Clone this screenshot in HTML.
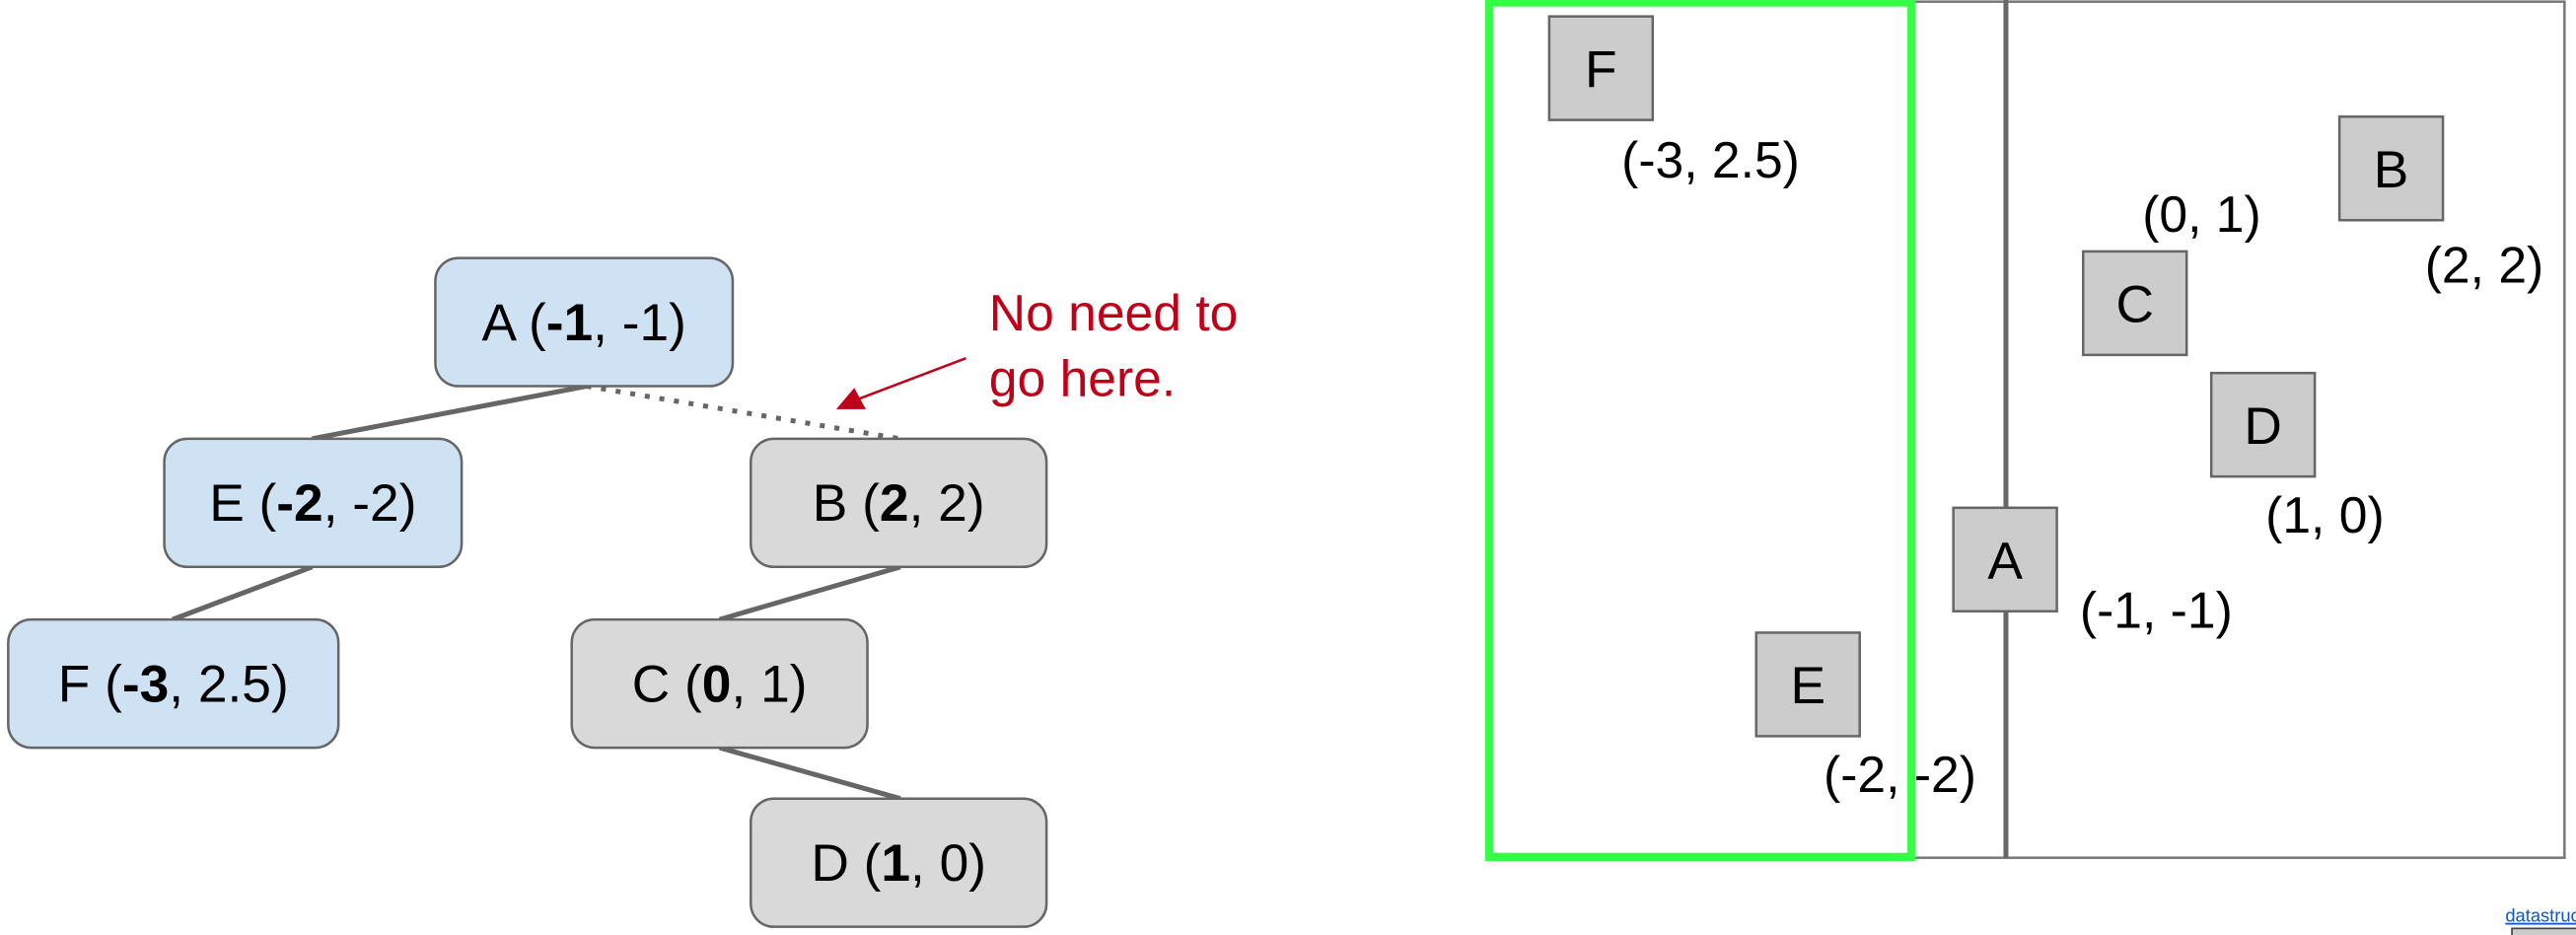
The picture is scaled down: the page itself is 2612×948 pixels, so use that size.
<!DOCTYPE html>
<html><head><meta charset="utf-8"><style>
html,body{margin:0;padding:0;background:#fff;width:2612px;height:948px;overflow:hidden}
svg{display:block}
text{font-family:"Liberation Sans",Arial,sans-serif}
</style></head><body>
<svg width="2612" height="948" viewBox="0 0 1568 569" preserveAspectRatio="none">
<g stroke="#666" stroke-width="3">
<line x1="357" y1="235" x2="190" y2="267"/>
<line x1="357" y1="235" x2="548" y2="267" stroke-dasharray="3,6"/>
<line x1="190" y1="345" x2="105" y2="377"/>
<line x1="548" y1="345" x2="438" y2="377"/>
<line x1="438" y1="455" x2="548" y2="486"/>
</g>
<g font-size="32" text-anchor="middle" stroke-width="1.5">
<g><rect x="265" y="157" width="181" height="78" rx="14" fill="#cfe2f3" stroke="#666"/><text x="355.5" y="207">A (<tspan font-weight="bold">-1</tspan>, -1)</text></g>
<g><rect x="100" y="267" width="181" height="78" rx="14" fill="#cfe2f3" stroke="#666"/><text x="190.5" y="317">E (<tspan font-weight="bold">-2</tspan>, -2)</text></g>
<g><rect x="457" y="267" width="180" height="78" rx="14" fill="#d9d9d9" stroke="#666"/><text x="547" y="317">B (<tspan font-weight="bold">2</tspan>, 2)</text></g>
<g><rect x="5" y="377" width="201" height="78" rx="14" fill="#cfe2f3" stroke="#666"/><text x="105.5" y="427">F (<tspan font-weight="bold">-3</tspan>, 2.5)</text></g>
<g><rect x="348" y="377" width="180" height="78" rx="14" fill="#d9d9d9" stroke="#666"/><text x="438" y="427">C (<tspan font-weight="bold">0</tspan>, 1)</text></g>
<g><rect x="457" y="486" width="180" height="78" rx="14" fill="#d9d9d9" stroke="#666"/><text x="547" y="536">D (<tspan font-weight="bold">1</tspan>, 0)</text></g>
</g>
<g>
<text x="602" y="201" font-size="31" fill="#c00018">No need to</text>
<text x="602" y="241" font-size="31" fill="#c00018">go here.</text>
<line x1="588" y1="218" x2="522" y2="243" stroke="#c00018" stroke-width="1.5"/>
<polygon points="509,249 520,236 527,249" fill="#c00018"/>
</g>
<g>
<rect x="905" y="1" width="656" height="521" fill="none" stroke="#777" stroke-width="1.5"/>
<line x1="1221" y1="0" x2="1221" y2="522" stroke="#666" stroke-width="3"/>
<rect x="906.5" y="1.5" width="257" height="520" fill="none" stroke="#33ff44" stroke-width="5"/>
<g font-size="32" text-anchor="middle" fill="#000">
<g><rect x="943" y="10" width="63" height="63" fill="#ccc" stroke="#666" stroke-width="1.5"/><text x="974.5" y="53">F</text></g>
<g><rect x="1424" y="71" width="63" height="63" fill="#ccc" stroke="#666" stroke-width="1.5"/><text x="1455.5" y="114">B</text></g>
<g><rect x="1268" y="153" width="63" height="63" fill="#ccc" stroke="#666" stroke-width="1.5"/><text x="1299.5" y="196">C</text></g>
<g><rect x="1346" y="227" width="63" height="63" fill="#ccc" stroke="#666" stroke-width="1.5"/><text x="1377.5" y="270">D</text></g>
<g><rect x="1189" y="309" width="63" height="63" fill="#ccc" stroke="#666" stroke-width="1.5"/><text x="1220.5" y="352">A</text></g>
<g><rect x="1069" y="385" width="63" height="63" fill="#ccc" stroke="#666" stroke-width="1.5"/><text x="1100.5" y="428">E</text></g>
</g>
<g font-size="31" fill="#000">
<text x="987" y="108">(-3, 2.5)</text>
<text x="1304" y="141">(0, 1)</text>
<text x="1476" y="172">(2, 2)</text>
<text x="1379" y="324">(1, 0)</text>
<text x="1266" y="382">(-1, -1)</text>
<text x="1110" y="482">(-2, -2)</text>
</g>
</g>
<text x="1525" y="561" font-size="11" fill="#1155cc" text-decoration="underline">datastructur.es</text>
<rect x="1529" y="565" width="40" height="6" fill="#ccc" stroke="#444" stroke-width="1"/>
</svg>
</body></html>
